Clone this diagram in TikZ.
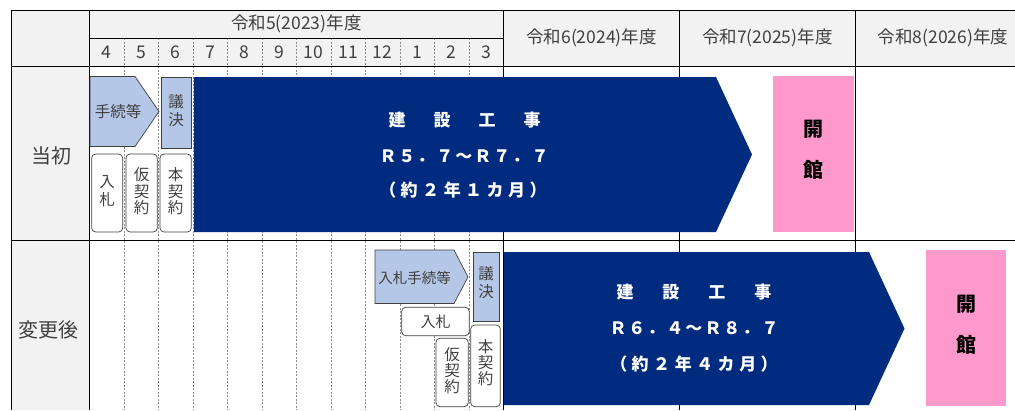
\documentclass[tikz,border=0pt]{standalone}
\usepackage{fontspec}
\newfontfamily\jp{Noto Sans CJK JP}
\definecolor{hdr}{HTML}{F2F2F2}
\definecolor{txt}{HTML}{404040}
\definecolor{lblue}{HTML}{B4C7E7}
\definecolor{navy}{HTML}{002B7F}
\definecolor{pinkbox}{HTML}{FF99CC}
\definecolor{dashc}{HTML}{8C8C8C}
\newcommand{\gs}{\hspace{2pt}}
\newcommand{\gw}{\hspace{4.5pt}}
\tikzset{
  fs/.style={font=\jp\fontsize{#1}{#1}\selectfont},
  lbl/.style={fs=17.5, text=txt, inner sep=0pt},
  grid/.style={line width=1pt, black},
  mline/.style={dashed, dash pattern=on 2pt off 1.5pt, dashc, line width=0.5pt},
  procbox/.style={fill=lblue, draw=txt, line width=0.7pt},
  smallbox/.style={fill=white, draw=txt, line width=0.7pt, rounded corners=4pt},
  boxtxt/.style={fs=15.5, text=txt, inner sep=0pt, align=center},
  navytxt/.style={text=white, inner sep=0pt, font=\jp\bfseries\fontsize{17}{17}\selectfont},
  opentxt/.style={inner sep=0pt, font=\jp\bfseries\fontsize{20}{20}\selectfont, text=black, align=center},
}
\begin{document}
\begin{tikzpicture}[x=1pt,y=-1pt]
\useasboundingbox (0,0) rectangle (1015,410);
% fills
\fill[hdr] (11,10) rectangle (1015,66.5);
\fill[hdr] (11,66.5) rectangle (89,410);
% month dashed lines
\foreach \k in {1,...,11}{
  \draw[mline] (89.5+34.48*\k,38) -- (89.5+34.48*\k,410);
}
% grid
\draw[grid] (11,10) -- (1015,10);
\draw[grid] (11,10) -- (11,410);
\draw[grid] (89.5,10) -- (89.5,410);
\draw[grid] (89.5,38) -- (503.3,38);
\draw[grid] (503.3,10) -- (503.3,410);
\draw[grid] (679.7,10) -- (679.7,410);
\draw[grid] (855,10) -- (855,410);
\draw[black, line width=1.8pt] (11,66.5) -- (1015,66.5);
\draw[grid] (11,240.3) -- (1015,240.3);
% header labels
\node[lbl] (y5) at (296.4,24) {令和5(2023)年度};
\node[lbl] (y6) at (591.5,38) {令和6(2024)年度};
\node[lbl] (y7) at (767.3,38) {令和7(2025)年度};
\node[lbl] (y8) at (943,38) {令和8(2026)年度};
\foreach \m [count=\i from 0] in {4,5,6,7,8,9,10,11,12,1,2,3}{
  \node[lbl] (m\i) at (89.5+34.48*\i+17.24,52) {\m};
}
\node[lbl, fs=20] (r1) at (51,156) {当初};
\node[lbl, fs=20] (r2) at (49,330) {変更後};
% ---------- row 1 ----------
\draw[procbox] (90,76.5) -- (135,76.5) -- (159,111.5) -- (135,146.5) -- (90,146.5) -- cycle;
\node[boxtxt] (a1) at (118,111.5) {手続等};
\draw[procbox] (161,77) rectangle (191,148);
\node[boxtxt] (a2) at (176,111) {議\\[2.5pt]決};
\draw[smallbox] (91.7,154) rectangle (122.7,232);
\node[boxtxt] (a3) at (107.2,191) {入\\[2.5pt]札};
\draw[smallbox] (126,154) rectangle (157.3,232);
\node[boxtxt] (a4) at (141.6,191.5) {仮\\[1pt]契\\[1pt]約};
\draw[smallbox] (160,154) rectangle (191.3,232);
\node[boxtxt] (a5) at (175.6,191.5) {本\\[1pt]契\\[1pt]約};
\fill[navy] (194,77) -- (716,77) -- (752,154.5) -- (716,232) -- (194,232) -- cycle;
\node[navytxt] (c1a) at (464.5,120) {建\hspace{28pt}設\hspace{28pt}工\hspace{28pt}事};
\node[navytxt] (c1b) at (464,156) {Ｒ\gs５\gs．\gs７\gs～\gs Ｒ\gs７\gs．\gs７};
\node[navytxt] (c1c) at (463,190) {（\gw 約\gw ２\gw 年\gw １\gw カ\gw 月\gw ）};
\fill[pinkbox] (773,76) rectangle (854,232);
\node[opentxt] (o1) at (813.5,150) {開\\[21pt]館};
% ---------- row 2 ----------
\draw[procbox] (375,250) -- (454,250) -- (468,277) -- (454,303.5) -- (375,303.5) -- cycle;
\node[boxtxt, fs=14.5] (b1) at (414.5,277.5) {入札手続等};
\draw[procbox] (473,252) rectangle (499.5,321);
\node[boxtxt] (b2) at (486.2,283) {議\\[2.5pt]決};
\draw[smallbox] (401.7,307.3) rectangle (469.3,335.7);
\node[boxtxt, fs=15] (b3) at (435.5,321.5) {入札};
\draw[smallbox] (436,338.3) rectangle (468.3,406.7);
\node[boxtxt] (b4) at (452.2,371) {仮\\[0.5pt]契\\[0.5pt]約};
\draw[smallbox] (470.7,325) rectangle (500.3,406.7);
\node[boxtxt] (b5) at (485.5,363) {本\\[0.5pt]契\\[0.5pt]約};
\fill[navy] (504,252) -- (869,252) -- (904.5,328.5) -- (869,405) -- (504,405) -- cycle;
\node[navytxt] (c2a) at (694,292) {建\hspace{29pt}設\hspace{29pt}工\hspace{29pt}事};
\node[navytxt] (c2b) at (694,328) {Ｒ\gs６\gs．\gs４\gs～\gs Ｒ\gs８\gs．\gs７};
\node[navytxt] (c2c) at (694,364.5) {（\gw 約\gw ２\gw 年\gw ４\gw カ\gw 月\gw ）};
\fill[pinkbox] (926,250) rectangle (1006,405.7);
\node[opentxt] (o2) at (966,325) {開\\[21pt]館};
\end{tikzpicture}
\end{document}
